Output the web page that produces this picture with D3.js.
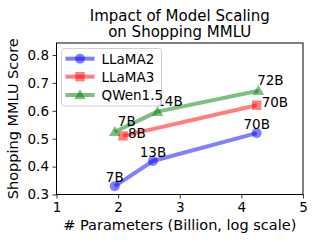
<!DOCTYPE html>
<html><head><meta charset="utf-8">
<script src="https://cdn.jsdelivr.net/npm/d3@7"></script>
<style>
html,body{margin:0;padding:0;background:#fff;}
svg{display:block;font-family:"DejaVu Sans",sans-serif;}
</style></head>
<body>
<svg id="chart" width="316" height="242"></svg>
<script>
// ---- data ----
const seriesNames = ["LLaMA2", "LLaMA3", "QWen1.5"];
const llama2Params = [7, 13, 70];
const llama2Scores = [0.33, 0.42, 0.52];
const llama2Labels = ["7B", "13B", "70B"];
const llama3Params = [8, 70];
const llama3Scores = [0.51, 0.62];
const llama3Labels = ["8B", "70B"];
const qwenParams = [7, 14, 72];
const qwenScores = [0.525, 0.597, 0.672];
const qwenLabels = ["7B", "14B", "72B"];
const xTickValues = [1, 2, 3, 4, 5];     // ln(billions)
const yTickValues = [0.3, 0.4, 0.5, 0.6, 0.7, 0.8];
const titleLines = ["Impact of Model Scaling", "on Shopping MMLU"];
const xLabel = "# Parameters (Billion, log scale)";
const yLabel = "Shopping MMLU Score";

// ---- styles ----
const styles = [
  {color: "blue",  marker: "circle",   anchor: "middle", dx: 0,  dy: -4.5},
  {color: "red",   marker: "square",   anchor: "start",  dx: 5,  dy: 2},
  {color: "green", marker: "triangle", anchor: "middle", dx: 12, dy: -6}
];
const series = [
  {name: seriesNames[0], params: llama2Params, scores: llama2Scores, labels: llama2Labels},
  {name: seriesNames[1], params: llama3Params, scores: llama3Scores, labels: llama3Labels},
  {name: seriesNames[2], params: qwenParams, scores: qwenScores, labels: qwenLabels}
];

const svg = d3.select("#chart");
const L = 56.5, R = 303, T = 43, B = 194.5;
const x = d3.scaleLog().base(Math.E).domain([Math.exp(1), Math.exp(5)]).range([L, R]);
const y = d3.scaleLinear().domain([0.3, 0.843]).range([B, T]);

const FONT = 13.5;

// axes
const xAxis = d3.axisBottom(x).tickValues(xTickValues.map(v => Math.exp(v)))
  .tickFormat((d, i) => String(xTickValues[i])).tickSize(4).tickPadding(3.5);
const gx = svg.append("g").attr("transform", `translate(0,${B})`).call(xAxis);
gx.select(".domain").remove();
gx.selectAll("text").attr("font-size", FONT).attr("fill", "#000").attr("font-family", "DejaVu Sans");
gx.selectAll("line").attr("stroke", "#000").attr("stroke-width", 0.8);

const yAxis = d3.axisLeft(y).tickValues(yTickValues).tickFormat(d3.format(".1f")).tickSize(4).tickPadding(3.5);
const gy = svg.append("g").attr("transform", `translate(${L},0)`).call(yAxis);
gy.select(".domain").remove();
gy.selectAll("text").attr("font-size", FONT).attr("fill", "#000").attr("font-family", "DejaVu Sans");
gy.selectAll("line").attr("stroke", "#000").attr("stroke-width", 0.8);

// frame
svg.append("rect").attr("x", L).attr("y", T).attr("width", R - L).attr("height", B - T)
  .attr("fill", "none").attr("stroke", "#000").attr("stroke-width", 1);

function drawMarker(g, kind, cx, cy, color) {
  if (kind === "circle") {
    g.append("circle").attr("cx", cx).attr("cy", cy).attr("r", 5).attr("fill", color).attr("opacity", 0.5);
  } else if (kind === "square") {
    g.append("rect").attr("x", cx - 4.7).attr("y", cy - 4.7).attr("width", 9.4).attr("height", 9.4)
      .attr("fill", color).attr("opacity", 0.5);
  } else {
    const s = 5.8;
    g.append("path").attr("d", `M${cx},${cy - s}L${cx + s},${cy + s * 0.75}L${cx - s},${cy + s * 0.75}Z`)
      .attr("fill", color).attr("opacity", 0.5);
  }
}

const line = d3.line();
series.forEach((s, si) => {
  const st = styles[si];
  const pts = s.params.map((p, i) => [x(p), y(s.scores[i])]);
  const g = svg.append("g");
  g.append("path").attr("d", line(pts)).attr("fill", "none").attr("stroke", st.color)
    .attr("stroke-width", 4).attr("opacity", 0.5).attr("stroke-linejoin", "round");
  pts.forEach(p => drawMarker(g, st.marker, p[0], p[1], st.color));
});
series.forEach((s, si) => {
  const st = styles[si];
  s.params.forEach((p, i) => {
    svg.append("text").attr("x", x(p) + st.dx).attr("y", y(s.scores[i]) + st.dy)
      .attr("text-anchor", st.anchor).attr("font-size", FONT).attr("fill", "#000").text(s.labels[i]);
  });
});

// legend
const lg = svg.append("g");
lg.append("rect").attr("x", 61.5).attr("y", 48.5).attr("width", 100).attr("height", 57.5)
  .attr("rx", 3).attr("fill", "#fff").attr("fill-opacity", 0.8).attr("stroke", "#d0d0d0").attr("stroke-width", 1);
const rowY = [58.7, 76.7, 95];
series.forEach((s, si) => {
  const st = styles[si];
  const yy = rowY[si];
  lg.append("line").attr("x1", 65.5).attr("x2", 94.5).attr("y1", yy).attr("y2", yy)
    .attr("stroke", st.color).attr("stroke-width", 4).attr("opacity", 0.5);
  drawMarker(lg, st.marker, 80, yy, st.color);
  lg.append("text").attr("x", 101.5).attr("y", yy + 4.8).attr("font-size", FONT).attr("fill", "#000").text(s.name);
});

// title
svg.append("text").attr("x", (L + R) / 2).attr("text-anchor", "middle").attr("font-size", 15).attr("fill", "#000")
  .selectAll("tspan").data(titleLines).join("tspan")
  .attr("x", (L + R) / 2).attr("y", (d, i) => 20.7 + i * 16.5).text(d => d);

// axis labels
svg.append("text").attr("x", (L + R) / 2).attr("y", 229.5).attr("text-anchor", "middle")
  .attr("font-size", 14.5).attr("fill", "#000").text(xLabel);
svg.append("text").attr("transform", `translate(18,${(T + B) / 2}) rotate(-90)`).attr("text-anchor", "middle")
  .attr("font-size", 14.5).attr("fill", "#000").text(yLabel);
</script>
</body></html>
